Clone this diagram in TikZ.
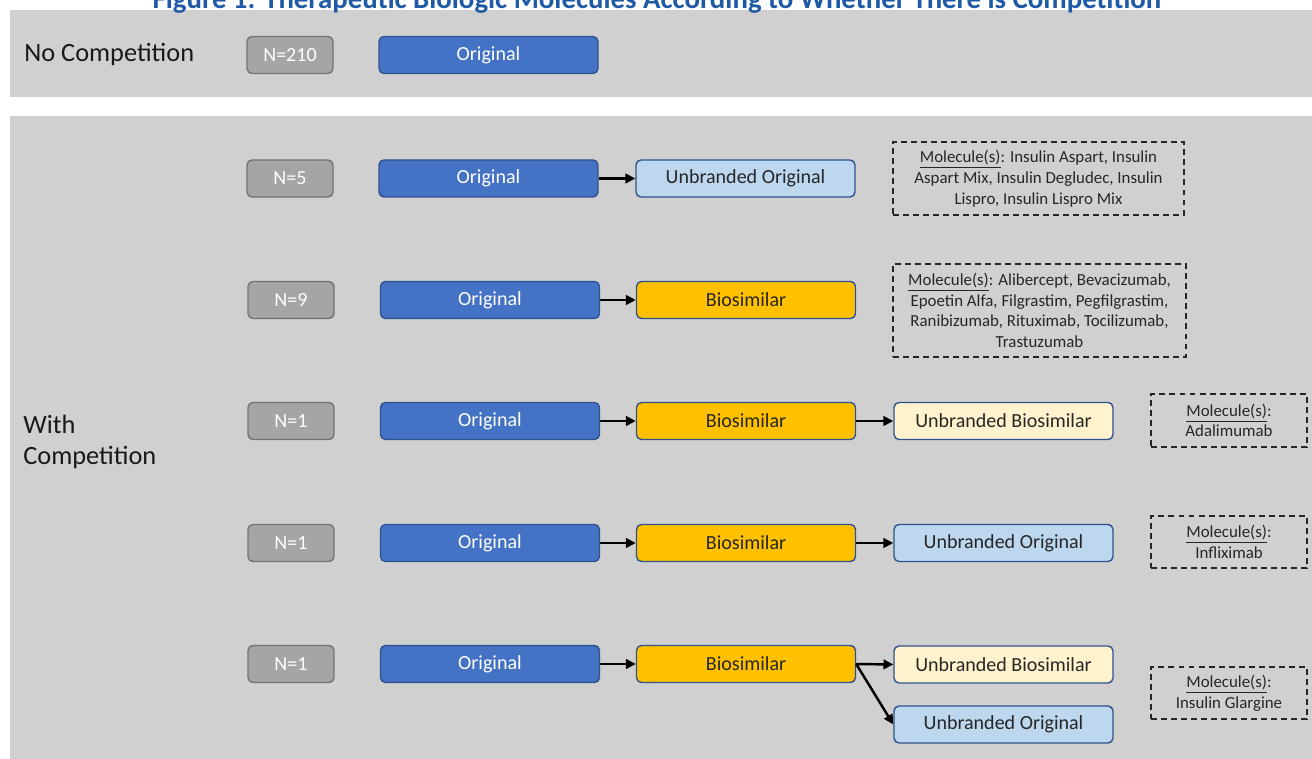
\documentclass[tikz,border=0pt]{standalone}
\usepackage{fontspec}
\setmainfont{Carlito}
\usepackage{xcolor}
\usetikzlibrary{arrows.meta, positioning}

\definecolor{panel}{HTML}{D0D0D0}
\definecolor{origblue}{HTML}{4472C4}
\definecolor{edgeblue}{HTML}{2F528F}
\definecolor{lightblue}{HTML}{BDD7EE}
\definecolor{gold}{HTML}{FFC000}
\definecolor{cream}{HTML}{FFF2CC}
\definecolor{countgray}{HTML}{A5A5A5}
\definecolor{titleblue}{HTML}{1F5AA6}

\tikzset{
  box/.style={rounded corners=2.8pt, draw=edgeblue, line width=0.8pt,
    minimum width=4.38cm, minimum height=0.74cm, inner sep=0pt,
    font=\fontsize{11.4}{13}\selectfont},
  orig/.style={box, fill=origblue, text=white},
  uorig/.style={box, fill=lightblue, text=black!85},
  bio/.style={box, fill=gold, text=black!85},
  ubio/.style={box, fill=cream, text=black!85},
  count/.style={box, draw=black!55, fill=countgray, text=white, minimum width=1.72cm},
  mol/.style={draw=black!85, line width=0.8pt, dash pattern=on 3.4pt off 2.3pt,
    align=center, text=black!85, inner sep=0pt,
    font=\fontsize{9.6}{11.8}\selectfont},
  group/.style={font=\fontsize{15}{17.6}\selectfont, text=black!90, anchor=west,
    align=left, inner sep=0pt},
  link/.style={-{Triangle[length=5.6pt,width=5.4pt]}, line width=1.4pt},
}

\begin{document}
\begin{tikzpicture}[x=0.02cm, y=-0.02cm]
  \useasboundingbox (0,0) rectangle (1312,759);
  \fill[panel] (10,10) rectangle (1312,97);
  \fill[panel] (10,116) rectangle (1312,759);

  \node[font=\bfseries\fontsize{16.4}{19}\selectfont, text=titleblue, anchor=base] (title)
    at (657,8.5) {Figure 1: Therapeutic Biologic Molecules According to Whether There is Competition};

  \node[group] (nocomp) at (24,55) {No Competition};
  \node[group] (withcomp) at (23,442) {With\\Competition};

  % no competition
  \node[count] (n0) at (290,55) {N=210};
  \node[orig] (o0) at (488.5,55) {Original};

  % original -> unbranded original
  \node[count] (n1) at (290,178.5) {N=5};
  \node[orig] (o1) at (488.5,178.5) {Original};
  \node[uorig] (u1) at (745.5,178.5) {Unbranded Original};
  \node[mol, minimum width=5.82cm, minimum height=1.46cm] (m1) at (1038.5,178.5)
    {\underline{Molecule(s)}: Insulin Aspart, Insulin\\Aspart Mix, Insulin Degludec, Insulin\\Lispro, Insulin Lispro Mix};

  % original -> biosimilar
  \node[count] (n2) at (291,300) {N=9};
  \node[orig] (o2) at (490,300) {Original};
  \node[bio] (b2) at (746,300) {Biosimilar};
  \node[mol, minimum width=5.86cm, minimum height=1.86cm] (m2) at (1039.5,310.5)
    {\underline{Molecule(s)}: Alibercept, Bevacizumab,\\Epoetin Alfa, Filgrastim, Pegfilgrastim,\\Ranibizumab, Rituximab, Tocilizumab,\\Trastuzumab};

  % original -> biosimilar -> unbranded biosimilar
  \node[count] (n3) at (291,421) {N=1};
  \node[orig] (o3) at (490,421) {Original};
  \node[bio] (b3) at (746,421) {Biosimilar};
  \node[ubio] (ub3) at (1003.5,421) {Unbranded Biosimilar};
  \node[mol, minimum width=3.12cm, minimum height=1.06cm] (m3) at (1229,420.5)
    {\underline{Molecule(s)}:\\Adalimumab};

  % original -> biosimilar -> unbranded original
  \node[count] (n4) at (291,543) {N=1};
  \node[orig] (o4) at (490,543) {Original};
  \node[bio] (b4) at (746,543) {Biosimilar};
  \node[uorig] (uo4) at (1003.5,543) {Unbranded Original};
  \node[mol, minimum width=3.12cm, minimum height=1.04cm] (m4) at (1229,542)
    {\underline{Molecule(s)}:\\Infliximab};

  % original -> biosimilar -> both
  \node[count] (n5) at (291,664) {N=1};
  \node[orig] (o5) at (490,664) {Original};
  \node[bio] (b5) at (746,664) {Biosimilar};
  \node[ubio] (ub5) at (1003.5,664.5) {Unbranded Biosimilar};
  \node[uorig] (uo5) at (1003.5,724.5) {Unbranded Original};
  \node[mol, minimum width=3.12cm, minimum height=1.04cm] (m5) at (1229,693)
    {\underline{Molecule(s)}:\\Insulin Glargine};

  \draw[link] (o1) -- (u1);
  \draw[link] (o2) -- (b2);
  \draw[link] (o3) -- (b3);
  \draw[link] (b3) -- (ub3);
  \draw[link] (o4) -- (b4);
  \draw[link] (b4) -- (uo4);
  \draw[link] (o5) -- (b5);
  \draw[link] (b5.east) -- (ub5.west);
  \draw[link] (b5.east) -- (uo5.west);
\end{tikzpicture}
\end{document}
